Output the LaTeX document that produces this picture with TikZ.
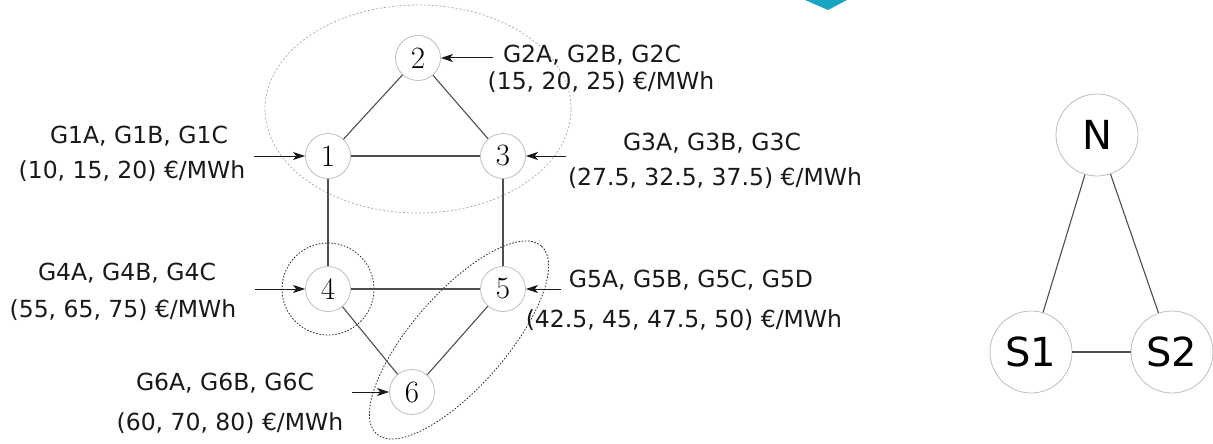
\documentclass[tikz,border=0pt]{standalone}
\usepackage{fontspec}
\newfontfamily\labfont{DejaVu Sans}
\usetikzlibrary{arrows.meta}
\definecolor{ringgray}{HTML}{BDBDBD}
\definecolor{edgegray}{HTML}{4E4E4E}
\definecolor{zonegray}{HTML}{A6A6A6}
\definecolor{zonedark}{HTML}{2E2E2E}
\definecolor{markteal}{HTML}{1AA6C3}
\begin{document}
\begin{tikzpicture}[x=1pt,y=-1pt,
  bus/.style={circle, draw=ringgray, line width=0.8pt, minimum size=45pt,
    inner sep=0pt, font=\fontsize{31}{31}\selectfont},
  area/.style={circle, draw=ringgray, line width=0.8pt, minimum size=82pt,
    inner sep=0pt, font=\labfont\fontsize{40}{40}\selectfont},
  link/.style={draw=edgegray, line width=1.1pt},
  feed/.style={-{Stealth[length=12pt,width=8pt,inset=3pt]}, line width=1pt, draw=black!90},
  lab/.style={font=\labfont\fontsize{23.5}{28}\selectfont, text=black!90,
    inner sep=0pt, anchor=base},
  zonelight/.style={draw=zonegray, line width=0.7pt, dash pattern=on 2pt off 2pt},
  zonedense/.style={draw=zonedark, line width=0.8pt, dash pattern=on 1.6pt off 1.6pt}
]
\useasboundingbox (0,0) rectangle (1213,444);

% corner mark
\fill[markteal] (805,0) -- (847,0) -- (828,10) -- cycle;

% buses
\node[bus] (b1) at (328,156) {1};
\node[bus] (b2) at (418,58) {2};
\node[bus] (b3) at (503,156) {3};
\node[bus] (b4) at (328,289) {4};
\node[bus] (b5) at (503,289) {5};
\node[bus] (b6) at (412,392) {6};

% zones
\draw[zonelight] (418,109) ellipse [x radius=153pt, y radius=104pt];
\draw[zonedense] (b4.center) circle [radius=46pt];
\begin{scope}[shift={(459,340)}, rotate=48.8]
  \draw[zonedense] (0,0) ellipse [x radius=125pt, y radius=47pt];
\end{scope}

% lines
\draw[link] (b1) -- (b2);
\draw[link] (b2) -- (b3);
\draw[link] (b1) -- (b3);
\draw[link] (b1) -- (b4);
\draw[link] (b3) -- (b5);
\draw[link] (b4) -- (b5);
\draw[link] (b4) -- (b6);
\draw[link] (b5) -- (b6);

% generator feeds
\coordinate (f1) at (254,156);
\coordinate (f2) at (493,58);
\coordinate (f3) at (566,156);
\coordinate (f4) at (255,289);
\coordinate (f5) at (561,289);
\coordinate (f6) at (352,392);
\draw[feed] (f1) -- (b1);
\draw[feed] (f2) -- (b2);
\draw[feed] (f3) -- (b3);
\draw[feed] (f4) -- (b4);
\draw[feed] (f5) -- (b5);
\draw[feed] (f6) -- (b6);

% generator labels
\node[lab] (g1a) at (139,143) {G1A, G1B, G1C};
\node[lab] (g1b) at (132,178) {(10, 15, 20) €/MWh};
\node[lab] (g2a) at (592,63) {G2A, G2B, G2C};
\node[lab] (g2b) at (601,89) {(15, 20, 25) €/MWh};
\node[lab] (g3a) at (712,150) {G3A, G3B, G3C};
\node[lab] (g3b) at (715,185) {(27.5, 32.5, 37.5) €/MWh};
\node[lab] (g4a) at (127,280) {G4A, G4B, G4C};
\node[lab] (g4b) at (123,317) {(55, 65, 75) €/MWh};
\node[lab] (g5a) at (691,287) {G5A, G5B, G5C, G5D};
\node[lab] (g5b) at (684,327) {(42.5, 45, 47.5, 50) €/MWh};
\node[lab] (g6a) at (225,390) {G6A, G6B, G6C};
\node[lab] (g6b) at (230,430) {(60, 70, 80) €/MWh};

% aggregated areas
\node[area] (n) at (1097,135) {N};
\node[area] (s1) at (1031,352) {S1};
\node[area] (s2) at (1172,352) {S2};
\draw[link] (n) -- (s1);
\draw[link] (n) -- (s2);
\draw[link] (s1) -- (s2);
\end{tikzpicture}
\end{document}
